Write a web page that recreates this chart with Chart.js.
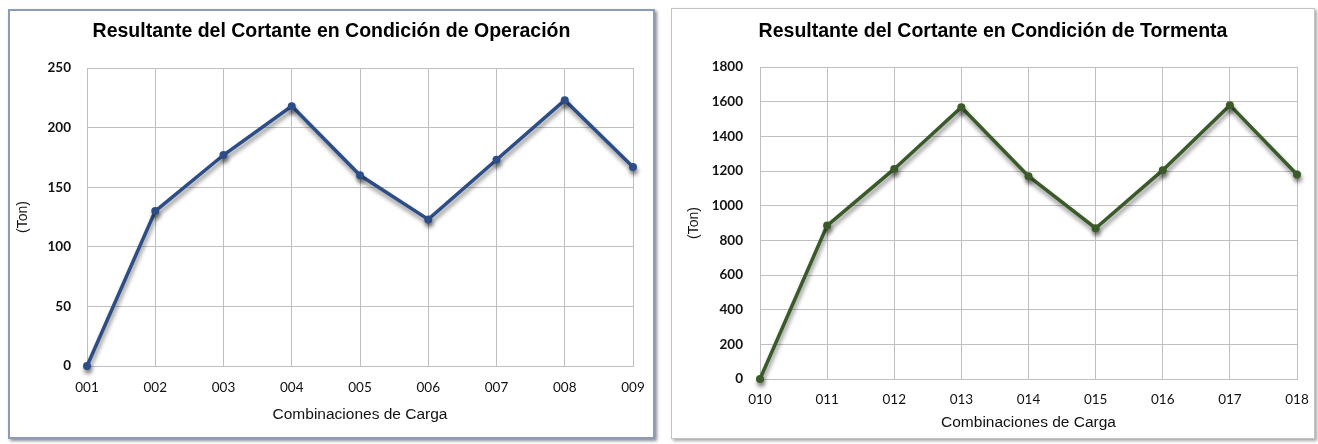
<!DOCTYPE html>
<html>
<head>
<meta charset="utf-8">
<script src="https://cdn.jsdelivr.net/npm/chart.js@4.4.0/dist/chart.umd.min.js"></script>
<style>
  body { margin: 0; background: #fff; width: 1318px; height: 444px; overflow: hidden; position: relative; }
  .panel { position: absolute; background: #fff; box-sizing: border-box; }
  #panelOp { left: 8px; top: 9px; width: 647px; height: 430px; border: 2px solid #8c9bb3; box-shadow: 2px 2px 3px rgba(40,50,70,.55); }
  #panelTo { left: 671px; top: 8px; width: 644px; height: 431px; border: 1px solid #c4c4c4; box-shadow: 2px 2px 3px rgba(0,0,0,.35); }
  canvas { position: absolute; left: 0; top: 0; }
</style>
</head>
<body>
<div class="panel" id="panelOp"><canvas id="chartOp" width="643" height="426"></canvas></div>
<div class="panel" id="panelTo"><canvas id="chartTo" width="642" height="429"></canvas></div>
<script>
// load combinations and resulting shear (Ton)
const combosOp = ['001', '002', '003', '004', '005', '006', '007', '008', '009'];
const shearOp = [0, 130, 177, 218, 160, 123, 173, 223, 167];
const combosTo = ['010', '011', '012', '013', '014', '015', '016', '017', '018'];
const shearTo = [0, 885, 1212, 1568, 1170, 870, 1205, 1580, 1180];

const titleOp = 'Resultante del Cortante en Condición de Operación';
const titleTo = 'Resultante del Cortante en Condición de Tormenta';
const xTitle = 'Combinaciones de Carga';
const yTitle = '(Ton)';

// soft drop shadow under the line and markers
const lineShadow = {
  id: 'lineShadow',
  beforeDatasetDraw(chart) {
    const ctx = chart.ctx;
    ctx.save();
    ctx.shadowColor = 'rgba(0,0,0,0.45)';
    ctx.shadowBlur = 4;
    ctx.shadowOffsetX = 1;
    ctx.shadowOffsetY = 4;
  },
  afterDatasetDraw(chart) {
    chart.ctx.restore();
  }
};

const gridColor = '#bfbfbf';
const tickFont = 'Lato, Open Sans, sans-serif';
const textFont = 'Liberation Sans, Arial, sans-serif';

function makeChart(id, labels, data, cfg) {
  return new Chart(document.getElementById(id), {
    type: 'line',
    data: {
      labels: labels,
      datasets: [{
        data: data,
        borderColor: cfg.color,
        backgroundColor: cfg.color,
        borderWidth: 3.5,
        pointRadius: 4,
        pointHoverRadius: 4,
        pointBorderWidth: 0,
        tension: 0,
        clip: false
      }]
    },
    plugins: [lineShadow],
    options: {
      responsive: false,
      animation: false,
      events: [],
      layout: { padding: 0 },
      plugins: {
        legend: { display: false },
        tooltip: { enabled: false },
        title: {
          display: true,
          text: cfg.title,
          color: '#000',
          font: { family: textFont, size: 19.5, weight: 'bold', lineHeight: 1.2 },
          padding: { top: cfg.titleTop, bottom: cfg.titleBottom }
        }
      },
      scales: {
        x: {
          offset: false,
          grid: { color: gridColor, drawTicks: false, offset: false },
          border: { color: gridColor },
          ticks: {
            color: '#111',
            autoSkip: false,
            maxRotation: 0,
            // tick padding also sets the right margin past the last label
            padding: cfg.xTickPad,
            font: { family: tickFont, size: 13.5, lineHeight: cfg.xTickLine }
          },
          title: {
            display: true,
            text: xTitle,
            color: '#111',
            font: { family: textFont, size: 15.5, lineHeight: 1.2 },
            padding: { top: 0, bottom: cfg.xTitlePad }
          },
          afterFit: s => { s.height = cfg.xHeight; }
        },
        y: {
          min: 0,
          max: cfg.max,
          grid: { color: gridColor, drawTicks: false },
          border: { color: gridColor },
          ticks: {
            stepSize: cfg.step,
            color: '#111',
            padding: cfg.yTickPad,
            callback: v => String(v),
            font: { family: tickFont, size: 13.5, weight: 'bold' }
          },
          title: {
            display: true,
            text: yTitle,
            color: '#111',
            font: { family: textFont, size: 14, lineHeight: 1.2 },
            padding: { top: cfg.yTitlePad, bottom: 0 }
          },
          afterFit: s => { s.width = cfg.yWidth; }
        }
      }
    }
  });
}

makeChart('chartOp', combosOp, shearOp, {
  title: titleOp, color: '#2d4d86', max: 250, step: 50,
  titleTop: 9.3, titleBottom: 24.3,
  xHeight: 71, xTickPad: 8.25, xTickLine: 27.5 / 13.5, xTitlePad: 12.7,
  yWidth: 77, yTickPad: 16, yTitlePad: 4.6
});

makeChart('chartTo', combosTo, shearTo, {
  title: titleTo, color: '#3a5a29', max: 1800, step: 200,
  titleTop: 11.3, titleBottom: 23.3,
  xHeight: 59, xTickPad: 5.25, xTickLine: 31.5 / 13.5, xTitlePad: 5.7,
  yWidth: 88, yTickPad: 17, yTitlePad: 13.6
});
</script>
</body>
</html>
